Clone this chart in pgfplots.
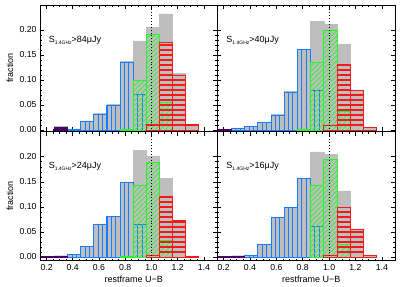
\documentclass[border=0pt]{standalone}
\usepackage{fontspec}
\setmainfont{Liberation Sans}
\usepackage{pgfplots}
\pgfplotsset{compat=1.18}

\definecolor{hgray}{RGB}{190,190,190}
\definecolor{hblue}{RGB}{20,125,255}
\definecolor{hgreen}{RGB}{40,245,40}
\definecolor{hred}{RGB}{245,25,25}
\definecolor{hpurple}{RGB}{72,0,100}

\newif\ifinhatch
\newcommand{\bhatchcode}{\ifinhatch\else\inhatchtrue
  \foreach \i in {1,...,30}{\draw[hblue,line width=0.8pt] ([xshift=\i*4.38pt]path picture bounding box.south west) -- ([xshift=\i*4.38pt]path picture bounding box.north west);}\fi}
\newcommand{\rhatchcode}{\ifinhatch\else\inhatchtrue
  \foreach \i in {1,...,30}{\draw[hred,line width=1.1pt] ([yshift=\i*5pt]path picture bounding box.south west) -- ([yshift=\i*5pt]path picture bounding box.south east);}\fi}
\newcommand{\ghatchcode}{\ifinhatch\else\inhatchtrue
  \foreach \i in {-30,...,15}{\draw[hgreen,line width=0.7pt] ([xshift=\i*5pt]path picture bounding box.south west) -- ++(160pt,160pt);}\fi}

\newcommand{\slabel}[1]{\fontsize{9}{10}\selectfont S\raisebox{-0.45ex}{\fontsize{5}{5}\selectfont 1.4GHz}>#1μJy}

\pgfplotsset{
  panel/.style={
    scale only axis, anchor=south west,
    xmin=0.15, xmax=1.5, ymax=0.25,
    xtick={0.2,0.4,0.6,0.8,1.0,1.2,1.4},
    ytick={0,0.05,0.10,0.15,0.20},
    minor x tick num=3, minor y tick num=4,
    tick align=inside,
    major tick length=4pt, minor tick length=2pt,
    every tick/.style={black, line width=0.6pt},
    axis line style={line width=0.9pt},
    tick label style={font=\fontsize{8.7}{10}\selectfont},
    /pgf/number format/assume math mode=true,
    xticklabel style={/pgf/number format/fixed, /pgf/number format/fixed zerofill, /pgf/number format/precision=1},
    yticklabel style={/pgf/number format/fixed, /pgf/number format/fixed zerofill, /pgf/number format/precision=2},
    every axis y label/.style={at={(axis description cs:-0.17,0.5)}, rotate=90, anchor=center, font=\fontsize{9}{10}\selectfont},
    every axis x label/.style={at={(axis description cs:0.53,0)}, anchor=base, yshift=-22pt, font=\fontsize{9}{10}\selectfont},
  },
  hist/.style={ybar, bar width=0.1, bar shift=0pt},
  gbar/.style={hist, fill=hgray, draw=hgray, line width=0.3pt},
  bbar/.style={hist, draw=hblue, line width=0.9pt, path picture={\bhatchcode}},
  grbar/.style={hist, draw=hgreen, line width=0.9pt, path picture={\ghatchcode}},
  rbar/.style={hist, draw=hred, line width=0.9pt, path picture={\rhatchcode}},
  pbar/.style={hist, fill=hpurple, draw=hpurple, line width=0.6pt},
  vline/.style={black, dotted, line width=0.9pt},
}

\begin{document}
\begin{tikzpicture}
\useasboundingbox (0,0) rectangle (403pt,286pt);

% top left
\begin{axis}[panel, at={(40pt,155pt)}, width=177pt, height=126pt, ymin=-0.002, xticklabels={}, ylabel={fraction}]
\addplot[gbar] coordinates {(0.31,0.007)(0.41,0.002)(0.51,0.018)(0.61,0.033)(0.71,0.051)(0.81,0.137)(0.91,0.178)(1.01,0.205)(1.11,0.232)(1.21,0.113)(1.31,0.012)};
\addplot[bbar] coordinates {(0.41,0.001)(0.51,0.017)(0.61,0.032)(0.71,0.050)(0.81,0.136)(0.91,0.071)};
\addplot[grbar] coordinates {(0.81,0.001)(0.91,0.100)(1.01,0.191)(1.11,0.055)};
\addplot[rbar] coordinates {(1.01,0.011)(1.11,0.175)(1.21,0.110)(1.31,0.011)};
\addplot[pbar] coordinates {(0.31,0.006)};
\addplot[vline] coordinates {(1.0,-0.01)(1.0,0.25)};
\node[anchor=west] at (axis cs:0.19,0.18) {\slabel{84}};
\end{axis}

% top right
\begin{axis}[panel, at={(217pt,155pt)}, width=178pt, height=126pt, ymin=-0.002, xticklabels={}, yticklabels={}]
\addplot[gbar] coordinates {(0.21,0.001)(0.31,0.004)(0.41,0.008)(0.51,0.016)(0.61,0.031)(0.71,0.077)(0.81,0.162)(0.91,0.217)(1.01,0.212)(1.11,0.172)(1.21,0.080)(1.31,0.006)};
\addplot[bbar] coordinates {(0.31,0.003)(0.41,0.007)(0.51,0.015)(0.61,0.030)(0.71,0.076)(0.81,0.161)(0.91,0.080)};
\addplot[grbar] coordinates {(0.81,0.001)(0.91,0.135)(1.01,0.200)(1.11,0.038)};
\addplot[rbar] coordinates {(1.01,0.010)(1.11,0.131)(1.21,0.079)(1.31,0.005)};
\addplot[pbar] coordinates {(0.21,0.001)};
\addplot[vline] coordinates {(1.0,-0.01)(1.0,0.25)};
\node[anchor=west] at (axis cs:0.195,0.18) {\slabel{40}};
\end{axis}

% bottom left
\begin{axis}[panel, at={(40pt,25.5pt)}, width=177pt, height=128.5pt, ymin=-0.007, ylabel={fraction}, xlabel={restframe U−B}]
\addplot[gbar] coordinates {(0.31,0.002)(0.41,0.005)(0.51,0.021)(0.61,0.066)(0.71,0.081)(0.81,0.150)(0.91,0.213)(1.01,0.202)(1.11,0.157)(1.21,0.073)(1.31,0.002)};
\addplot[bbar] coordinates {(0.41,0.005)(0.51,0.021)(0.61,0.065)(0.71,0.080)(0.81,0.148)(0.91,0.065)};
\addplot[grbar] coordinates {(0.81,0.001)(0.91,0.143)(1.01,0.188)(1.11,0.033)};
\addplot[rbar] coordinates {(1.01,0.003)(1.11,0.120)(1.21,0.072)(1.31,0.002)};
\addplot[pbar] coordinates {(0.21,0.001)(0.31,0.002)};
\addplot[vline] coordinates {(1.0,-0.01)(1.0,0.25)};
\node[anchor=west] at (axis cs:0.19,0.18) {\slabel{24}};
\end{axis}

% bottom right
\begin{axis}[panel, at={(217pt,25.5pt)}, width=178pt, height=128.5pt, ymin=-0.007, yticklabels={}, xlabel={restframe U−B}]
\addplot[gbar] coordinates {(0.21,0.001)(0.31,0.002)(0.41,0.004)(0.51,0.026)(0.61,0.080)(0.71,0.100)(0.81,0.158)(0.91,0.210)(1.01,0.205)(1.11,0.132)(1.21,0.056)(1.31,0.003)};
\addplot[bbar] coordinates {(0.41,0.004)(0.51,0.025)(0.61,0.079)(0.71,0.099)(0.81,0.157)(0.91,0.060)};
\addplot[grbar] coordinates {(0.91,0.143)(1.01,0.195)(1.11,0.025)};
\addplot[rbar] coordinates {(1.01,0.003)(1.11,0.099)(1.21,0.055)(1.31,0.003)};
\addplot[pbar] coordinates {(0.21,0.001)(0.31,0.002)};
\addplot[vline] coordinates {(1.0,-0.01)(1.0,0.25)};
\node[anchor=west] at (axis cs:0.195,0.18) {\slabel{16}};
\end{axis}
\end{tikzpicture}
\end{document}
